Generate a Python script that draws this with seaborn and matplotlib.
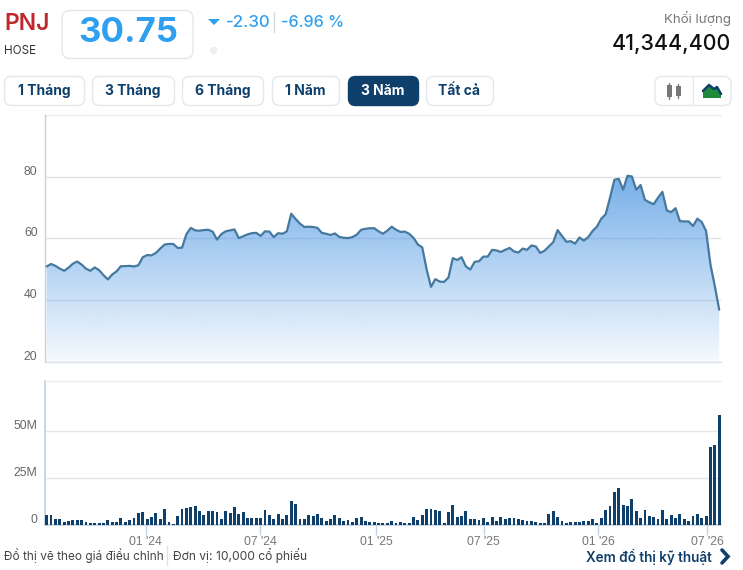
import numpy as np
import pandas as pd
import matplotlib
matplotlib.use("Agg")
import matplotlib.pyplot as plt
from matplotlib.colors import to_rgb
from matplotlib.patches import FancyBboxPatch, Polygon, Rectangle
import seaborn as sns

# gia dong cua theo tuan (doc tu hinh)
price = [50.9, 51.7, 51.1, 50.2, 49.5, 50.5, 51.8, 52.5, 51.5, 50.2, 49.5, 50.6, 49.7, 48.1, 46.7, 48.3,
         49.3, 51.0, 51.0, 51.1, 50.9, 51.3, 53.9, 54.6, 54.5, 55.3, 56.7, 58.0, 58.2, 58.2, 56.9, 57.0,
         61.4, 63.4, 62.6, 62.5, 62.7, 62.8, 62.2, 59.6, 61.4, 62.3, 62.6, 62.9, 60.1, 60.7, 61.3,
         61.7, 61.8, 60.8, 62.3, 62.2, 60.4, 61.7, 61.5, 62.3, 68.0, 66.3, 64.8, 63.7, 63.8, 63.7, 63.4,
         61.8, 61.5, 61.1, 61.6, 60.5, 60.2, 60.1, 60.4, 61.2, 62.8, 63.1, 63.3, 63.3, 62.3, 61.5, 62.5,
         63.8, 62.8, 62.1, 62.2, 61.5, 60.2, 58.0, 57.1, 50.0, 44.3, 46.8, 46.0, 45.9, 47.3, 53.6, 53.0,
         53.9, 50.9, 49.9, 52.4, 52.6, 54.1, 54.1, 56.3, 56.1,
         55.6, 56.3, 56.9, 55.8, 55.4, 56.7, 56.3, 57.7, 57.4, 55.3, 56.0, 57.4, 58.8, 62.7, 60.8, 58.9,
         59.1, 58.3, 60.3, 59.3, 60.4, 62.4, 63.8, 66.4, 67.8, 73.2, 79.0, 79.3, 75.8, 80.3, 80.1, 75.8,
         77.3, 72.5, 71.7, 71.1, 73.2, 75.1, 69.1, 68.5, 69.8, 65.6, 65.5, 65.5, 64.0, 66.4, 65.3, 62.4,
         51.5, 44.5, 36.9]

# khoi luong (trieu cp)
volume = [5.3, 5.3, 3.2, 3.2, 1.4, 2.1, 2.8, 2.8, 2.5, 1.8, 0.9, 1.2, 1.2, 1.2, 2.5, 1.4, 1.8, 3.7, 1.4,
          2.8, 3.5, 6.2, 6.7, 3.2, 4.4, 6.2, 3.2, 8.5, 1.4, 0.7, 4.6, 8.5, 9.2, 9.8, 10.3, 7.4, 5.3, 7.4,
          7.4, 7.1, 3.2, 7.4, 6.4, 9.6, 5.7, 6.7, 3.9,
          3.9, 3.9, 3.5, 8.0, 5.3, 3.2, 5.9, 3.2, 5.3, 12.8, 11.2, 3.2, 3.2, 5.1, 5.0, 5.9, 3.7, 2.1, 3.2,
          5.3, 3.7, 2.0, 2.5, 1.4, 3.9, 4.3, 2.1, 1.6, 1.6, 0.9, 1.2, 1.1, 2.1, 1.2, 1.4, 1.2, 0.9, 4.3,
          2.7, 5.3, 8.5, 8.5, 8.2, 7.4, 1.2, 6.9, 10.6, 4.4, 4.8, 7.4, 3.2, 3.2, 2.7, 3.7, 1.6, 4.3, 2.1,
          4.2, 3.3, 3.7, 3.7, 3.3, 2.6, 2.3, 2.1, 1.6, 1.1, 0.9, 5.8, 7.4, 4.2, 2.1, 1.2, 1.6, 1.4, 1.6,
          2.1, 2.1, 3.0, 0.9, 3.7, 7.9, 10.0, 17.4, 19.5, 10.6, 10.0, 13.7, 7.4, 3.7, 7.9, 4.8, 4.2, 3.2,
          7.9, 3.2, 5.3, 3.7, 5.8, 3.2, 2.1, 4.8, 5.8, 3.7, 4.8, 41.7, 42.3, 58.6]

week = np.arange(len(price))
date_ticks = [22.7, 48.9, 75.4, 100.1, 126.3, 151.2]
date_labels = ["01 '24", "07 '24", "01 '25", "07 '25", "01 '26", "07 '26"]
price_ticks = [20, 40, 60, 80]
vol_ticks = [0, 25, 50]
vol_labels = ["0", "25M", "50M"]
buttons = ["1 Tháng", "3 Tháng", "6 Tháng", "1 Năm", "3 Năm", "Tất cả"]

df = pd.DataFrame({"week": week, "price": price, "volume": volume})

W, H = 743, 570
NAVY = "#0f3f6b"
BLUE = "#2f9ff0"
sns.set_theme(style="white")
plt.rcParams["font.family"] = ["Inter", "DejaVu Sans"]
plt.rcParams["axes.unicode_minus"] = False

fig = plt.figure(figsize=(W / 100, H / 100), dpi=100)


def px_axes(left, top, right, bottom):
    return fig.add_axes([left / W, 1 - bottom / H, (right - left) / W, (bottom - top) / H])


xlim = (-0.5, 154.3)

# bieu do gia
ax = px_axes(44.5, 115, 720.5, 361.8)
ax.set_xlim(xlim)
ax.set_ylim(20, 100)
ax.set_yticks(price_ticks)
ax.grid(axis="y", color="#e0e4e9", linewidth=1, zorder=1)
ax.set_axisbelow(True)
sns.lineplot(data=df, x="week", y="price", ax=ax, color="#45799f", linewidth=1.6, zorder=4)
poly = ax.fill_between(week, price, 20, color="none", zorder=2)
# to mau gradient co alpha de luoi van thay duoc ben duoi
rgba = np.ones((256, 1, 4))
rgba[:, :, :3] = to_rgb("#3f8fe0")
rgba[:, 0, 3] = np.linspace(0.72, 0.05, 256)
img = ax.imshow(rgba, aspect="auto", extent=(xlim[0], xlim[1], 20, 81), zorder=2)
img.set_clip_path(poly.get_paths()[0], transform=ax.transData)
ax.set_xlim(xlim)
ax.set_ylim(20, 100)
ax.set_xticks([])
ax.set_xlabel("")
ax.set_ylabel("")
for s in ["top", "right", "bottom"]:
    ax.spines[s].set_visible(False)
ax.spines["left"].set_color("#c5d3e0")
ax.spines["left"].set_linewidth(1)
ax.plot([xlim[0], xlim[1]], [100, 100], color="#eceff2", lw=1, clip_on=False)
ax.plot([xlim[0], xlim[1]], [20, 20], color="#dfe3e8", lw=1, clip_on=False, zorder=3)
ax.set_yticklabels([])
ax.tick_params(left=False)
for v in price_ticks:
    ax.annotate(str(v), (0, v), xycoords=("axes fraction", "data"), xytext=(-5, 3.6),
                textcoords="offset points", ha="right", va="center", fontsize=8.8,
                color="#666666", family="Liberation Sans")

# bieu do khoi luong
ax2 = px_axes(44.5, 381, 720.5, 525)
sns.barplot(data=df, x="week", y="volume", ax=ax2, native_scale=True, color=NAVY, width=0.66,
            saturation=1, linewidth=0, zorder=3)
ax2.set_xlim(xlim)
ax2.set_ylim(0, 76.6)
ax2.set_xlabel("")
ax2.set_ylabel("")
ax2.set_yticks(vol_ticks)
ax2.set_yticklabels([])
ax2.grid(axis="y", color="#e3e6ea", linewidth=1)
ax2.set_xticks(date_ticks)
ax2.set_xticklabels(date_labels, fontsize=8.8, color="#777777", family="Liberation Sans")
ax2.tick_params(axis="x", bottom=True, length=7, width=1, color="#c5d3e0", pad=1)
ax2.tick_params(axis="y", left=False)
for s in ["top", "right"]:
    ax2.spines[s].set_visible(False)
ax2.spines["left"].set_color("#c5d3e0")
ax2.spines["bottom"].set_color("#c5d3e0")
ax2.plot([xlim[0], xlim[1]], [76.6, 76.6], color="#eceff2", lw=1, clip_on=False)
for v, lab in zip(vol_ticks, vol_labels):
    ax2.annotate(lab, (0, v), xycoords=("axes fraction", "data"), xytext=(-5, 3.6),
                 textcoords="offset points", ha="right", va="center", fontsize=8.8,
                 color="#666666", family="Liberation Sans")

# phan dau va chan, toa do pixel
ui = fig.add_axes([0, 0, 1, 1], zorder=10)
ui.set_xlim(0, W)
ui.set_ylim(H, 0)
ui.axis("off")


def box(x0, y0, x1, y1, fc="white", ec="#e4e7eb", r=7):
    ui.add_patch(FancyBboxPatch((x0 + r, y0 + r), x1 - x0 - 2 * r, y1 - y0 - 2 * r,
                                boxstyle=f"round,pad={r},rounding_size={r}", fc=fc, ec=ec, lw=1))


ui.text(4, 23.5, "PNJ", fontsize=16.5, color="#c0282d", weight="semibold", va="center")
ui.text(4, 50.5, "HOSE", fontsize=8.4, color="#333333", va="center")
box(62, 10.5, 193, 58.5, r=8)
ui.text(128.5, 33, "30.75", fontsize=25, color=BLUE, weight="bold", ha="center", va="center")
ui.add_patch(Polygon([[208, 19], [220, 19], [214, 25]], fc=BLUE, ec="none"))
ui.text(225.5, 22.5, "-2.30", fontsize=12.2, color=BLUE, weight="medium", va="center")
ui.plot([273.5, 273.5], [12, 32], color="#d5d8dc", lw=1)
ui.text(281, 22.5, "-6.96 %", fontsize=11.6, color=BLUE, weight="medium", va="center")
ui.scatter([212.5], [50], s=28, color="#eeeeee", linewidths=0)
ui.text(731, 18, "Khối lượng", fontsize=9.6, color="#777777", ha="right", va="center")
ui.text(731, 44, "41,344,400", fontsize=15.4, color="#111111", weight="medium", ha="right", va="center")

btn_x = [(4, 84), (92, 174), (182, 263), (272, 339), (348, 418), (426, 493)]
for lab, (x0, x1) in zip(buttons, btn_x):
    active = lab == "3 Năm"
    box(x0 + 0.5, 76.5, x1 + 0.5, 105.5, fc=NAVY if active else "white", ec=NAVY if active else "#e4e7eb")
    ui.text((x0 + x1) / 2, 91, lab, fontsize=10, weight="bold", ha="center", va="center",
            color="white" if active else NAVY)

# nut chon kieu bieu do
box(655, 76.5, 731, 105.5)
ui.plot([693, 693], [77, 105], color="#e4e7eb", lw=1)
for cx, h0, h1 in [(669, 85, 97), (678, 86, 96)]:
    ui.plot([cx, cx], [h0 - 2, h1 + 2], color="#777777", lw=1)
    ui.add_patch(Rectangle((cx - 2.5, h0), 5, h1 - h0, fc="#777777", ec="none"))
ui.add_patch(Polygon([[703, 98], [703, 91], [709, 85], [714, 89], [717, 87], [721, 94], [721, 98]],
                     fc="#1f8a3a", ec="none"))
ui.plot([703, 709, 714, 717, 721], [91, 85, 89, 87, 94], color=NAVY, lw=1.8)

ui.text(4, 555.5, "Đồ thị vẽ theo giá điều chỉnh", fontsize=8.5, color="#444444", va="center")
ui.plot([167, 167], [546, 565], color="#e2e2e2", lw=1)
ui.text(173, 555.5, "Đơn vị: 10,000 cổ phiếu", fontsize=8.7, color="#444444", va="center")
ui.text(586, 557, "Xem đồ thị kỹ thuật", fontsize=9.7, color=NAVY, weight="semibold", va="center")
ui.plot([722, 728, 722], [550, 556.5, 563], color=NAVY, lw=2.6, solid_joinstyle="miter")

fig.savefig("out.png", dpi=100)
